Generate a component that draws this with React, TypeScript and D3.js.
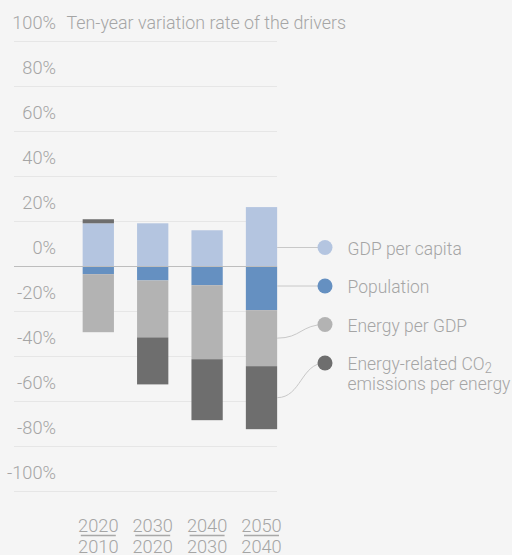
import React from "react";
import * as d3 from "d3";

const periodEnd = ["2020", "2030", "2040", "2050"];
const periodStart = ["2010", "2020", "2030", "2040"];
const seriesNames = ["GDP per capita", "Population", "Energy per GDP", "Energy-related CO2 emissions per energy"];
const gdpPerCapita = [19.2, 19.2, 16.1, 26.4];
const population = [-3.4, -6.2, -8.3, -19.4];
const energyPerGdp = [-25.8, -25.3, -32.9, -24.9];
const co2PerEnergy = [1.8, -20.9, -27.1, -28.0];
const yTicks = [100, 80, 60, 40, 20, 0, -20, -40, -60, -80, -100];
const titleText = "Ten-year variation rate of the drivers";

const colors = ["#b4c5e0", "#6590c1", "#b3b3b3", "#6e6e6e"];
const textColor = "#a5a5a5";
const FONT = "Roboto, 'Noto Sans', sans-serif";

const W = 512;
const H = 555;

function T({ x, y, anchor = "start", size = 19, sx = 0.9, fill = textColor, children }: any) {
  return (
    <text
      transform={`translate(${x},${y}) scale(${sx},1)`}
      textAnchor={anchor}
      fontSize={size}
      fontFamily={FONT}
      fontWeight={300}
      fill={fill}
    >
      {children}
    </text>
  );
}

export default function App() {
  const keys = ["gdp", "pop", "egdp", "co2"];
  const rows = periodEnd.map((p, i) => ({
    period: p,
    gdp: gdpPerCapita[i],
    pop: population[i],
    egdp: energyPerGdp[i],
    co2: co2PerEnergy[i],
  }));
  const stacked = d3.stack<any>().keys(keys).offset(d3.stackOffsetDiverging)(rows);

  const y = d3.scaleLinear().domain([-100, 100]).range([491.5, 41.5]);
  const x = d3
    .scaleBand<string>()
    .domain(periodEnd)
    .range([71.1, 288.7])
    .paddingInner(0.425)
    .paddingOuter(0.2125);

  const gridX0 = 14;
  const gridX1 = 277;

  const legendX = 325;
  const legendY0 = 247.5;
  const legendStep = 38.5;
  const lastIdx = periodEnd.length - 1;
  const barRight = (x(periodEnd[lastIdx]) as number) + x.bandwidth();
  const link = d3.linkHorizontal();

  return (
    <div style={{ position: "absolute", left: 0, top: 0 }}>
      <svg width={W} height={H} style={{ display: "block" }}>
        <rect x={0} y={0} width={W} height={H} fill="#f5f5f5" />
        {yTicks.map((t) => (
          <g key={t}>
            {t !== 0 && (
              <line x1={gridX0} x2={gridX1} y1={y(t)} y2={y(t)} stroke="#e6e6e6" strokeWidth={1} />
            )}
            <T x={56} y={y(t) - 12.5} anchor="end" sx={0.96}>
              {`${t}%`}
            </T>
          </g>
        ))}
        <T x={66.5} y={28.5} sx={0.94}>{titleText}</T>

        {stacked.map((s, si) => (
          <g key={s.key} fill={colors[si]}>
            {s.map((d, i) => (
              <rect
                key={i}
                x={x(periodEnd[i])}
                width={x.bandwidth()}
                y={y(Math.max(d[0], d[1]))}
                height={Math.abs(y(d[0]) - y(d[1]))}
              />
            ))}
          </g>
        ))}
        <line x1={gridX0} x2={gridX1} y1={y(0)} y2={y(0)} stroke="#bdbdbd" strokeWidth={1} />

        {stacked.map((s, si) => {
          const d = s[lastIdx];
          const top = y(Math.max(d[0], d[1]));
          const bot = y(Math.min(d[0], d[1]));
          const mid = (top + bot) / 2;
          const ly = legendY0 + si * legendStep;
          const straight = ly > top && ly < bot && Math.abs(ly - mid) < 12;
          const path = straight
            ? `M${barRight},${ly}L${legendX},${ly}`
            : (link({ source: [barRight, mid], target: [legendX, ly] } as any) as string);
          return <path key={s.key} d={path} fill="none" stroke="#c8c8c8" strokeWidth={1} />;
        })}

        {seriesNames.map((name, si) => {
          const ly = legendY0 + si * legendStep;
          return (
            <g key={name}>
              <circle cx={legendX} cy={ly} r={7.5} fill={colors[si]} />
              {si < 3 ? (
                <T x={347.5} y={ly + 7} sx={0.92}>{name}</T>
              ) : (
                <>
                  <text
                    transform={`translate(347.5,${ly + 7}) scale(0.92,1)`}
                    fontSize={19}
                    fontFamily={FONT}
                    fontWeight={300}
                    fill={textColor}
                  >
                    Energy-related CO
                    <tspan fontSize={14} dy={3}>2</tspan>
                  </text>
                  <T x={347.5} y={ly + 27} sx={0.92}>emissions per energy</T>
                </>
              )}
            </g>
          );
        })}

        {periodEnd.map((p, i) => {
          const cx = (x(p) as number) + x.bandwidth() / 2;
          return (
            <g key={p}>
              <T x={cx} y={531.5} anchor="middle" sx={0.96}>{p}</T>
              <line x1={cx - 17.5} x2={cx + 17.5} y1={535.5} y2={535.5} stroke="#a8a8a8" strokeWidth={1.5} />
              <T x={cx} y={553} anchor="middle" sx={0.96}>{periodStart[i]}</T>
            </g>
          );
        })}
      </svg>
    </div>
  );
}
